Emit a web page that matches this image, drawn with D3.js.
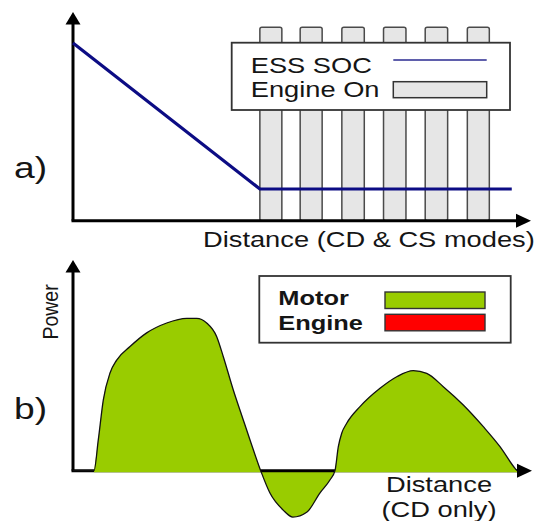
<!DOCTYPE html>
<html><head><meta charset="utf-8">
<script src="https://cdn.jsdelivr.net/npm/d3@7"></script>
<style>body{margin:0;background:#fff}svg{display:block}text{font-family:"Liberation Sans",Arial,sans-serif;fill:#151515}</style>
</head><body>
<script>
// ---- data ----
// panel a: ESS state of charge vs distance
const socDistance = [0, 40.8, 95.8];
const socValue = [85.1, 15.2, 15.2];
// engine-on intervals (start distance, width)
const engineOnStart = [40.8, 49.6, 58.7, 67.8, 76.9, 86.1];
const engineOnWidth = [4.8, 4.8, 4.9, 4.9, 4.9, 4.8];
const engineOnTop = 92.7;
// panel b: motor power vs distance
const powerDistance = [0, 4.59, 5.52, 6.62, 8.08, 9.54, 12.45, 16.09, 20.46, 24.83, 27.01, 29.19, 31.38, 32.82, 35.0, 37.18, 38.65, 40.98,
  43.0, 45.9, 48.0, 51.1, 53.9, 56.1, 57.2,
  57.93, 58.67, 59.76, 62.66, 67.03, 70.68, 74.30, 77.23, 80.85, 85.22, 89.59, 93.23, 96.51, 96.94];
const powerValue = [0, 0, 14.6, 33.6, 46.4, 52.5, 58.9, 65.4, 70.1, 72.3, 72.3, 70.1, 63.6, 54.1, 38.3, 24.1, 14.6, 0,
  -10.6, -18.7, -22.0, -19.6, -10.6, -4.4, 0,
  11.4, 17.8, 22.5, 30.4, 39.1, 44.6, 47.5, 46.2, 39.9, 31.2, 20.9, 11.4, 1.1, 0];
const legendA = ["ESS SOC", "Engine On"];
const legendB = ["Motor", "Engine"];
const legendBColors = ["#99cc00", "#ff0000"];

const W = 539, H = 521, SX = 1.24;
const svg = d3.select("body").append("svg").attr("width", W).attr("height", H);

function txt(g, s, x, y, size, opts = {}) {
  return g.append("text").text(s).attr("font-size", size)
    .attr("font-weight", opts.bold ? "bold" : null)
    .attr("text-anchor", opts.anchor || "start")
    .attr("transform", `translate(${x},${y}) scale(${SX},1)`);
}
function arrowAxes(g, x0, y0, xTip, yTip) {
  g.append("line").attr("x1", x0).attr("y1", y0).attr("x2", x0).attr("y2", yTip + 11).attr("stroke", "#000").attr("stroke-width", 3);
  g.append("line").attr("x1", x0 - 1.5).attr("y1", y0).attr("x2", xTip - 13).attr("y2", y0).attr("stroke", "#000").attr("stroke-width", 3);
  g.append("path").attr("d", `M${x0},${yTip}L${x0 + 7.5},${yTip + 12.5}L${x0 - 7.5},${yTip + 12.5}Z`).attr("fill", "#000");
  g.append("path").attr("d", `M${xTip},${y0}L${xTip - 15},${y0 - 7}L${xTip - 15},${y0 + 7}Z`).attr("fill", "#000");
}

// ---- panel a ----
const xA = d3.scaleLinear().domain([0, 100]).range([73, 531]);
const yA = d3.scaleLinear().domain([0, 100]).range([220.7, 12]);
const gA = svg.append("g");
gA.selectAll("rect.bar").data(engineOnStart).join("rect").attr("class", "bar")
  .attr("x", d => xA(d)).attr("width", (d, i) => xA(d + engineOnWidth[i]) - xA(d))
  .attr("y", yA(engineOnTop)).attr("height", yA(0) - yA(engineOnTop))
  .attr("rx", 2).attr("fill", "#e6e6e6").attr("stroke", "#4a4a4a").attr("stroke-width", 1.5);
arrowAxes(gA, 73, 220.7, 531, 12);
gA.append("path").datum(socDistance.map((d, i) => [d, socValue[i]]))
  .attr("d", d3.line().x(d => xA(d[0])).y(d => yA(d[1])))
  .attr("fill", "none").attr("stroke", "#0c0c84").attr("stroke-width", 3.2);
// legend a
gA.append("rect").attr("x", 231.7).attr("y", 42.7).attr("width", 278.3).attr("height", 67.3)
  .attr("fill", "#fff").attr("stroke", "#333").attr("stroke-width", 1.8);
txt(gA, legendA[0], 250.7, 72.7, 22);
txt(gA, legendA[1], 250.7, 96.7, 22);
gA.append("line").attr("x1", 393.3).attr("x2", 486.7).attr("y1", 60).attr("y2", 60).attr("stroke", "#2a2a90").attr("stroke-width", 1.6);
gA.append("rect").attr("x", 393.3).attr("y", 81.7).attr("width", 93.4).attr("height", 16)
  .attr("fill", "#e6e6e6").attr("stroke", "#333").attr("stroke-width", 1.5);
txt(gA, "a)", 14, 178, 30);
txt(gA, "Distance (CD & CS modes)", 203, 246.5, 22);

// ---- panel b ----
const xB = d3.scaleLinear().domain([0, 100]).range([73, 531]);
const yB = d3.scaleLinear().domain([0, 100]).range([470.7, 260]);
const gB = svg.append("g");
const pts = powerDistance.map((d, i) => ({ x: d, v: powerValue[i] }));
const nb = (i, f) => f(pts[i].v) || (i > 0 && f(pts[i - 1].v)) || (i < pts.length - 1 && f(pts[i + 1].v));
const negArea = d3.area().curve(d3.curveMonotoneX).defined((d, i) => nb(i, v => v < 0))
  .x(d => xB(d.x)).y0(yB(0)).y1(d => yB(Math.min(d.v, 0)));
const posArea = d3.area().curve(d3.curveMonotoneX).defined((d, i) => nb(i, v => v > 0))
  .x(d => xB(d.x)).y0(yB(0) + 1.6).y1(d => yB(Math.max(d.v, 0)));
gB.append("path").datum(pts).attr("d", negArea).attr("fill", "#99cc00");
arrowAxes(gB, 73, 470.7, 532, 260);
gB.append("path").datum(pts).attr("d", posArea).attr("fill", "#99cc00");
gB.append("path").datum(pts).attr("d", d3.line().curve(d3.curveMonotoneX).x(d => xB(d.x)).y(d => yB(d.v)))
  .attr("fill", "none").attr("stroke", "#111").attr("stroke-width", 1.3);
// legend b
gB.append("rect").attr("x", 259.3).attr("y", 276).attr("width", 251.4).attr("height", 66.7)
  .attr("fill", "#fff").attr("stroke", "#333").attr("stroke-width", 1.8);
legendB.forEach((s, i) => {
  txt(gB, s, 278.3, 305 + i * 25, 20.5, { bold: true });
  gB.append("rect").attr("x", 385).attr("y", 292 + i * 22.3).attr("width", 100).attr("height", 16.5)
    .attr("fill", legendBColors[i]).attr("stroke", "#333").attr("stroke-width", 1.4);
});
txt(gB, "Power", 58, 312, 19.5, { anchor: "middle" }).attr("transform", "translate(58,312) scale(1.15,1) rotate(-90)");
txt(gB, "b)", 14, 419, 30);
txt(gB, "Distance", 439, 491.5, 22, { anchor: "middle" });
txt(gB, "(CD only)", 439, 517, 22, { anchor: "middle" });
</script>
</body></html>
